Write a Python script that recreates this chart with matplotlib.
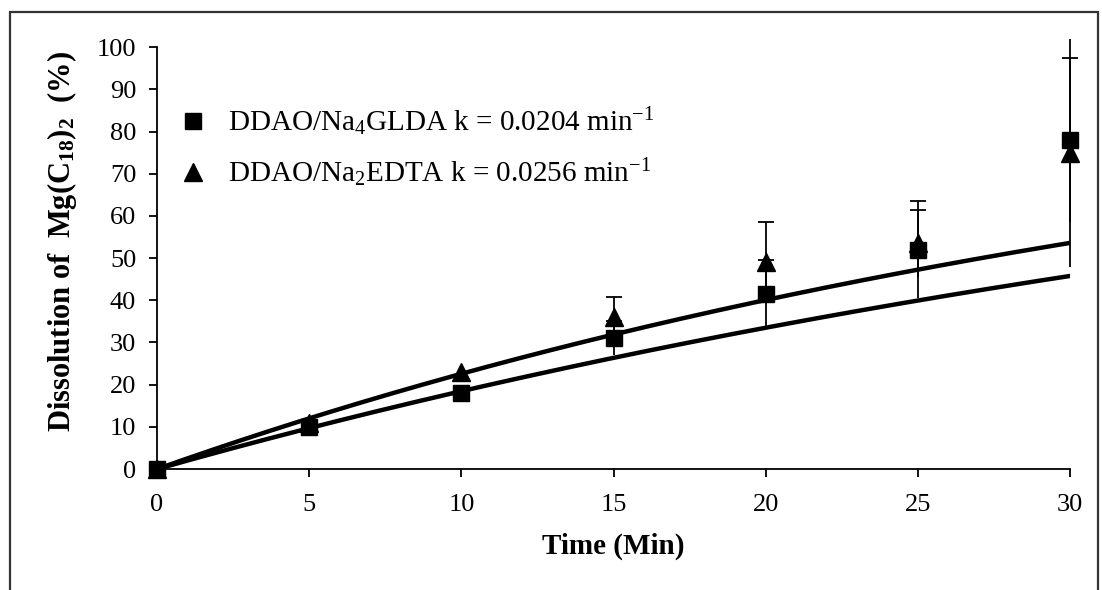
import numpy as np
import matplotlib.pyplot as plt
from matplotlib.patches import Rectangle

plt.rcParams['font.family'] = 'Liberation Serif'
plt.rcParams['mathtext.fontset'] = 'custom'
plt.rcParams['mathtext.rm'] = 'Liberation Serif'
plt.rcParams['mathtext.it'] = 'Liberation Serif:italic'
plt.rcParams['mathtext.bf'] = 'Liberation Serif:bold'

# sampling times (min)
time_min = [0, 5, 10, 15, 20, 25, 30]

# DDAO/Na4GLDA
glda_mean = [0, 10, 18, 31, 41.5, 52, 78]
glda_err = [0, 0, 0, 4, 8, 11.5, 19.5]
glda_k = 0.0204

# DDAO/Na2EDTA
edta_mean = [0, 11, 23, 36, 49, 53.5, 75]
edta_err = [0, 0, 0, 4.7, 9.5, 8, 27]
edta_k = 0.0256

fig = plt.figure(figsize=(11.02, 5.90), dpi=100)
ax = fig.add_axes([0.1425, 0.205, 0.8285, 0.715])

# first-order fits
t_fit = np.linspace(0, 30, 200)
ax.plot(t_fit, 100 * (1 - np.exp(-glda_k * t_fit)), color='black', lw=3.2, zorder=3)
ax.plot(t_fit, 100 * (1 - np.exp(-edta_k * t_fit)), color='black', lw=3.2, zorder=3)


def draw_errors(t, mean, err):
    t = np.asarray(t, float)
    mean = np.asarray(mean, float)
    err = np.asarray(err, float)
    has = err > 0
    ax.vlines(t[has], (mean - err)[has], (mean + err)[has], color='black',
              lw=1.3, clip_on=False, zorder=2)
    # caps on the upper end only, and only inside the plot area
    top = mean + err
    capped = has & (top <= 100)
    ax.plot(t[capped], top[capped], linestyle='none', marker='_', markersize=12,
            markeredgewidth=1.3, color='black', clip_on=False, zorder=2)


draw_errors(time_min, glda_mean, glda_err)
draw_errors(time_min, edta_mean, edta_err)

ax.plot(time_min, edta_mean, linestyle='none', marker='^', markersize=13,
        color='black', clip_on=False, zorder=4,
        label='DDAO/Na$_2$EDTA k = 0.0256 min$^{-1}$')
ax.plot(time_min, glda_mean, linestyle='none', marker='s', markersize=11,
        color='black', clip_on=False, zorder=5,
        label='DDAO/Na$_4$GLDA k = 0.0204 min$^{-1}$')

ax.set_xlim(0, 30)
ax.set_ylim(0, 100)
ax.set_xticks(range(0, 31, 5))
ax.set_yticks(range(0, 101, 10))
ax.spines['top'].set_visible(False)
ax.spines['right'].set_visible(False)
for side in ('left', 'bottom'):
    ax.spines[side].set_linewidth(1.3)
ax.tick_params(direction='out', length=6, width=1.3, labelsize=19)
ax.tick_params(axis='x', pad=12)
ax.tick_params(axis='y', pad=9)

ax.set_xlabel('Time (Min)', fontsize=21, fontweight='bold', labelpad=12)
ax.set_ylabel(r'Dissolution of  Mg(C$_\mathbf{18}$)$_\mathbf{2}$  (%)',
              fontsize=22, fontweight='bold')
ax.yaxis.set_label_coords(-0.085, 0.54)

handles, labels = ax.get_legend_handles_labels()
ax.legend(handles[::-1], labels[::-1], loc='upper left', bbox_to_anchor=(-0.005, 0.925),
          frameon=False, fontsize=21, numpoints=1, handlelength=1.0,
          handletextpad=0.7, labelspacing=0.65)

# outer frame
fig.patches.append(Rectangle((10 / 1102, -0.05), 1088 / 1102, 1 - 12 / 590 + 0.05,
                             transform=fig.transFigure, fill=False,
                             edgecolor='#333333', linewidth=1.6))

fig.savefig('out.png', dpi=100)
